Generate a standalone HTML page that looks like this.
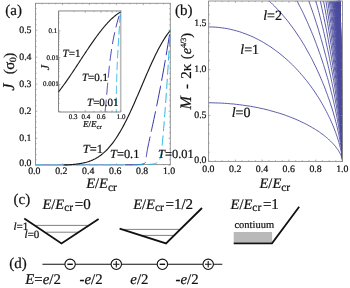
<!DOCTYPE html>
<html><head><meta charset="utf-8"><style>
html,body{margin:0;padding:0;background:#fff;}
body{width:350px;height:288px;overflow:hidden;font-family:"Liberation Serif",serif;}
svg{display:block;will-change:transform;}
</style></head><body>
<svg width="350" height="288" viewBox="0 0 350 288" style="font-family:'Liberation Serif',serif" text-rendering="geometricPrecision">

<g fill="none" stroke="#8a8a8a" stroke-width="0.9">
<rect x="35.5" y="3.3" width="134.80" height="161.30"/>
<path d="M35.50,165.2 v-1.8 M35.50,3.3 v1.8 M42.24,165.2 v-1.1 M42.24,3.3 v1.1 M48.98,165.2 v-1.1 M48.98,3.3 v1.1 M55.72,165.2 v-1.1 M55.72,3.3 v1.1 M62.46,165.2 v-1.8 M62.46,3.3 v1.8 M69.20,165.2 v-1.1 M69.20,3.3 v1.1 M75.94,165.2 v-1.1 M75.94,3.3 v1.1 M82.68,165.2 v-1.1 M82.68,3.3 v1.1 M89.42,165.2 v-1.8 M89.42,3.3 v1.8 M96.16,165.2 v-1.1 M96.16,3.3 v1.1 M102.90,165.2 v-1.1 M102.90,3.3 v1.1 M109.64,165.2 v-1.1 M109.64,3.3 v1.1 M116.38,165.2 v-1.8 M116.38,3.3 v1.8 M123.12,165.2 v-1.1 M123.12,3.3 v1.1 M129.86,165.2 v-1.1 M129.86,3.3 v1.1 M136.60,165.2 v-1.1 M136.60,3.3 v1.1 M143.34,165.2 v-1.8 M143.34,3.3 v1.8 M150.08,165.2 v-1.1 M150.08,3.3 v1.1 M156.82,165.2 v-1.1 M156.82,3.3 v1.1 M163.56,165.2 v-1.1 M163.56,3.3 v1.1 M170.30,165.2 v-1.8 M170.30,3.3 v1.8 M35.5,165.20 h1.8 M170.3,165.20 h-1.8 M35.5,159.80 h1.1 M170.3,159.80 h-1.1 M35.5,154.40 h1.1 M170.3,154.40 h-1.1 M35.5,149.00 h1.1 M170.3,149.00 h-1.1 M35.5,143.60 h1.1 M170.3,143.60 h-1.1 M35.5,138.20 h1.8 M170.3,138.20 h-1.8 M35.5,132.80 h1.1 M170.3,132.80 h-1.1 M35.5,127.40 h1.1 M170.3,127.40 h-1.1 M35.5,122.00 h1.1 M170.3,122.00 h-1.1 M35.5,116.60 h1.1 M170.3,116.60 h-1.1 M35.5,111.20 h1.8 M170.3,111.20 h-1.8 M35.5,105.80 h1.1 M170.3,105.80 h-1.1 M35.5,100.40 h1.1 M170.3,100.40 h-1.1 M35.5,95.00 h1.1 M170.3,95.00 h-1.1 M35.5,89.60 h1.1 M170.3,89.60 h-1.1 M35.5,84.20 h1.8 M170.3,84.20 h-1.8 M35.5,78.80 h1.1 M170.3,78.80 h-1.1 M35.5,73.40 h1.1 M170.3,73.40 h-1.1 M35.5,68.00 h1.1 M170.3,68.00 h-1.1 M35.5,62.60 h1.1 M170.3,62.60 h-1.1 M35.5,57.20 h1.8 M170.3,57.20 h-1.8 M35.5,51.80 h1.1 M170.3,51.80 h-1.1 M35.5,46.40 h1.1 M170.3,46.40 h-1.1 M35.5,41.00 h1.1 M170.3,41.00 h-1.1 M35.5,35.60 h1.1 M170.3,35.60 h-1.1 M35.5,30.20 h1.8 M170.3,30.20 h-1.8 M35.5,24.80 h1.1 M170.3,24.80 h-1.1 M35.5,19.40 h1.1 M170.3,19.40 h-1.1 M35.5,14.00 h1.1 M170.3,14.00 h-1.1 M35.5,8.60 h1.1 M170.3,8.60 h-1.1" stroke-width="0.7"/>
</g>
<path d="M35.5,164.95 H63.48" stroke="#9a9a9a" stroke-width="1"/>
<path d="M35.5,164.95 H122.68" stroke="#8a8ad2" stroke-width="1"/>
<path d="M35.5,164.95 H131.91" stroke="#5ac8f0" stroke-width="1" stroke-dasharray="9.5 4"/>
<path d="M63.48,164.95 L64.33,164.94 L65.17,164.91 L66.02,164.88 L66.87,164.85 L67.72,164.81 L68.56,164.76 L69.41,164.72 L70.26,164.66 L71.11,164.61 L71.96,164.55 L72.80,164.48 L73.65,164.40 L74.50,164.32 L75.35,164.24 L76.19,164.14 L77.04,164.04 L77.89,163.93 L78.74,163.81 L79.59,163.68 L80.43,163.54 L81.28,163.39 L82.13,163.23 L82.98,163.05 L83.82,162.87 L84.67,162.67 L85.52,162.45 L86.37,162.22 L87.22,161.98 L88.06,161.71 L88.91,161.43 L89.76,161.13 L90.61,160.82 L91.45,160.48 L92.30,160.12 L93.15,159.74 L94.00,159.33 L94.85,158.91 L95.69,158.46 L96.54,157.98 L97.39,157.48 L98.24,156.95 L99.08,156.39 L99.93,155.80 L100.78,155.19 L101.63,154.54 L102.48,153.86 L103.32,153.15 L104.17,152.41 L105.02,151.63 L105.87,150.82 L106.72,149.98 L107.56,149.10 L108.41,148.18 L109.26,147.23 L110.11,146.24 L110.95,145.22 L111.80,144.16 L112.65,143.06 L113.50,141.92 L114.35,140.74 L115.19,139.53 L116.04,138.28 L116.89,136.99 L117.74,135.66 L118.58,134.30 L119.43,132.90 L120.28,131.46 L121.13,129.99 L121.98,128.48 L122.82,126.94 L123.67,125.36 L124.52,123.75 L125.37,122.11 L126.21,120.43 L127.06,118.73 L127.91,116.99 L128.76,115.23 L129.61,113.44 L130.45,111.63 L131.30,109.79 L132.15,107.93 L133.00,106.05 L133.84,104.15 L134.69,102.24 L135.54,100.30 L136.39,98.35 L137.24,96.39 L138.08,94.42 L138.93,92.45 L139.78,90.46 L140.63,88.47 L141.47,86.48 L142.32,84.48 L143.17,82.49 L144.02,80.50 L144.87,78.52 L145.71,76.54 L146.56,74.58 L147.41,72.62 L148.26,70.68 L149.11,68.75 L149.95,66.84 L150.80,64.96 L151.65,63.09 L152.50,61.24 L153.34,59.42 L154.19,57.63 L155.04,55.86 L155.89,54.12 L156.74,52.42 L157.58,50.75 L158.43,49.11 L159.28,47.51 L160.13,45.94 L160.97,44.42 L161.82,42.93 L162.67,41.49 L163.52,40.09 L164.37,38.73 L165.21,37.42 L166.06,36.15 L166.91,34.92 L167.76,33.74 L168.60,32.61 L169.45,31.53 L170.30,30.49" fill="none" stroke="#1a1a1a" stroke-width="1.15"/>
<path d="M170.20,30.50 L169.07,37.59 L167.97,44.31 L166.91,50.67 L165.89,56.70 L164.90,62.41 L163.94,67.82 L163.02,72.95 L162.13,77.81 L161.28,82.41 L160.46,86.77 L159.66,90.90 L158.90,94.81 L158.17,98.51 L157.46,102.02 L156.79,105.35 L156.14,108.50 L155.52,111.49 L154.93,114.31 L154.36,116.99 L153.82,119.53 L153.31,121.93 L152.82,124.21 L152.35,126.37 L151.90,128.41 L151.48,130.35 L151.08,132.18 L150.70,133.92 L150.34,135.57 L150.00,137.13 L149.68,138.61 L149.38,140.01 L149.09,141.33 L148.83,142.59 L148.58,143.78 L148.35,144.91 L148.13,145.98 L147.93,146.99 L147.74,147.95 L147.56,148.85 L147.40,149.72 L147.25,150.53 L147.11,151.30 L146.99,152.03 L146.87,152.73 L146.77,153.38 L146.67,154.01 L146.58,154.60 L146.50,155.15 L146.43,155.68 L146.36,156.18 L146.30,156.66 L146.25,157.11 L146.20,157.53 L146.16,157.94 L146.12,158.32 L146.08,158.68 L146.04,159.03 L146.01,159.35 L145.98,159.66 L145.94,159.95 L145.91,160.23 L145.88,160.49 L145.85,160.74 L145.81,160.97 L145.77,161.19 L145.73,161.40 L145.69,161.60 L145.64,161.79 L145.58,161.97 L145.52,162.14 L145.45,162.30 L145.38,162.46 L145.30,162.60 L145.21,162.74 L145.11,162.87 L145.01,162.99 L144.89,163.11 L144.76,163.22 L144.62,163.32 L144.47,163.42 L144.31,163.51 L144.13,163.60 L143.94,163.69 L143.74,163.77 L143.52,163.84 L143.28,163.91 L143.03,163.98 L142.76,164.05 L142.47,164.11 L142.17,164.16 L141.85,164.22 L141.51,164.27 L141.14,164.32 L140.76,164.37 L140.36,164.41 L139.93,164.45 L139.48,164.49 L139.01,164.53 L138.52,164.56 L138.00,164.60 L137.45,164.63 L136.88,164.66 L136.29,164.69 L135.66,164.71 L135.01,164.74 L134.33,164.76 L133.63,164.79 L132.89,164.81 L132.12,164.83 L131.33,164.85 L130.50,164.87 L129.64,164.88 L128.75,164.90 L127.82,164.92 L126.86,164.93 L125.87,164.95 L124.84,164.95 L123.78,164.95 L122.68,164.95" fill="none" stroke="#3434a8" stroke-width="1.0" stroke-dasharray="21 5" stroke-dashoffset="22"/>
<path d="M170.26,30.50 L169.85,37.59 L169.45,44.31 L169.07,50.67 L168.71,56.70 L168.35,62.41 L168.01,67.82 L167.68,72.95 L167.36,77.81 L167.06,82.41 L166.76,86.77 L166.48,90.90 L166.21,94.81 L165.95,98.51 L165.70,102.02 L165.45,105.35 L165.22,108.50 L165.00,111.49 L164.78,114.31 L164.58,116.99 L164.38,119.53 L164.19,121.93 L164.00,124.21 L163.83,126.37 L163.66,128.41 L163.50,130.35 L163.34,132.18 L163.19,133.92 L163.05,135.57 L162.91,137.13 L162.77,138.61 L162.64,140.01 L162.52,141.33 L162.40,142.59 L162.28,143.78 L162.17,144.91 L162.06,145.98 L161.95,146.99 L161.84,147.95 L161.74,148.85 L161.64,149.72 L161.53,150.53 L161.44,151.30 L161.34,152.03 L161.24,152.73 L161.14,153.38 L161.04,154.01 L160.94,154.60 L160.84,155.15 L160.74,155.68 L160.64,156.18 L160.54,156.66 L160.43,157.11 L160.32,157.53 L160.21,157.94 L160.10,158.32 L159.98,158.68 L159.86,159.03 L159.74,159.35 L159.61,159.66 L159.47,159.95 L159.33,160.23 L159.19,160.49 L159.04,160.74 L158.89,160.97 L158.72,161.19 L158.56,161.40 L158.38,161.60 L158.20,161.79 L158.01,161.97 L157.81,162.14 L157.61,162.30 L157.39,162.46 L157.17,162.60 L156.94,162.74 L156.70,162.87 L156.44,162.99 L156.18,163.11 L155.91,163.22 L155.63,163.32 L155.34,163.42 L155.03,163.51 L154.71,163.60 L154.39,163.69 L154.05,163.77 L153.69,163.84 L153.33,163.91 L152.95,163.98 L152.56,164.05 L152.15,164.11 L151.73,164.16 L151.29,164.22 L150.84,164.27 L150.38,164.32 L149.90,164.37 L149.40,164.41 L148.89,164.45 L148.36,164.49 L147.81,164.53 L147.25,164.56 L146.67,164.60 L146.07,164.63 L145.45,164.66 L144.82,164.69 L144.17,164.71 L143.49,164.74 L142.80,164.76 L142.09,164.79 L141.36,164.81 L140.61,164.83 L139.84,164.85 L139.04,164.87 L138.23,164.88 L137.39,164.90 L136.53,164.92 L135.66,164.93 L134.75,164.95 L133.83,164.95 L132.88,164.95 L131.91,164.95" fill="none" stroke="#22b6e8" stroke-width="1.0" stroke-dasharray="10 4.2" stroke-dashoffset="8.4"/>
<rect x="58.5" y="10.9" width="62.20" height="101.10" fill="#fff" stroke="none"/>
<path d="M58.5,10.9 V112.0 H120.7" fill="none" stroke="#777" stroke-width="0.9"/>
<path d="M58.5,10.9 H120.7 V112.0" fill="none" stroke="#bbb" stroke-width="1.6"/>
<path d="M58.49,112.0 v-2.0 M58.49,10.9 v2.0 M74.16,112.0 v-1.2 M74.16,10.9 v1.2 M85.28,112.0 v-2.0 M85.28,10.9 v2.0 M93.91,112.0 v-1.2 M93.91,10.9 v1.2 M100.96,112.0 v-2.0 M100.96,10.9 v2.0 M106.91,112.0 v-1.2 M106.91,10.9 v1.2 M112.08,112.0 v-2.0 M112.08,10.9 v2.0 M116.63,112.0 v-1.2 M116.63,10.9 v1.2 M120.70,112.0 v-2.0 M120.70,10.9 v2.0 M58.5,111.35 h2.0 M58.5,103.27 h1.2 M58.5,98.54 h1.2 M58.5,95.18 h1.2 M58.5,92.58 h1.2 M58.5,90.46 h1.2 M58.5,88.66 h1.2 M58.5,87.10 h1.2 M58.5,85.73 h1.2 M58.5,84.50 h2.0 M58.5,76.42 h1.2 M58.5,71.69 h1.2 M58.5,68.33 h1.2 M58.5,65.73 h1.2 M58.5,63.61 h1.2 M58.5,61.81 h1.2 M58.5,60.25 h1.2 M58.5,58.88 h1.2 M58.5,57.65 h2.0 M58.5,49.57 h1.2 M58.5,44.84 h1.2 M58.5,41.48 h1.2 M58.5,38.88 h1.2 M58.5,36.76 h1.2 M58.5,34.96 h1.2 M58.5,33.40 h1.2 M58.5,32.03 h1.2 M58.5,30.80 h2.0 M58.5,22.72 h1.2 M58.5,17.99 h1.2 M58.5,14.63 h1.2 M58.5,12.03 h1.2" fill="none" stroke="#888" stroke-width="0.6"/>
<path d="M58.49,91.91 L59.01,91.25 L59.54,90.58 L60.06,89.90 L60.58,89.22 L61.10,88.53 L61.62,87.84 L62.15,87.14 L62.67,86.43 L63.19,85.72 L63.71,85.01 L64.23,84.29 L64.75,83.56 L65.28,82.83 L65.80,82.09 L66.32,81.35 L66.84,80.61 L67.36,79.86 L67.89,79.11 L68.41,78.35 L68.93,77.59 L69.45,76.83 L69.97,76.07 L70.50,75.30 L71.02,74.52 L71.54,73.75 L72.06,72.97 L72.58,72.19 L73.11,71.41 L73.63,70.62 L74.15,69.84 L74.67,69.05 L75.19,68.26 L75.71,67.47 L76.24,66.67 L76.76,65.88 L77.28,65.08 L77.80,64.29 L78.32,63.49 L78.85,62.69 L79.37,61.90 L79.89,61.10 L80.41,60.30 L80.93,59.51 L81.46,58.71 L81.98,57.91 L82.50,57.12 L83.02,56.32 L83.54,55.53 L84.07,54.73 L84.59,53.94 L85.11,53.15 L85.63,52.37 L86.15,51.58 L86.68,50.79 L87.20,50.01 L87.72,49.23 L88.24,48.45 L88.76,47.68 L89.28,46.91 L89.81,46.14 L90.33,45.37 L90.85,44.61 L91.37,43.85 L91.89,43.10 L92.42,42.34 L92.94,41.60 L93.46,40.85 L93.98,40.11 L94.50,39.38 L95.03,38.65 L95.55,37.92 L96.07,37.20 L96.59,36.49 L97.11,35.78 L97.64,35.07 L98.16,34.38 L98.68,33.68 L99.20,33.00 L99.72,32.31 L100.25,31.64 L100.77,30.97 L101.29,30.31 L101.81,29.66 L102.33,29.01 L102.85,28.37 L103.38,27.73 L103.90,27.11 L104.42,26.49 L104.94,25.88 L105.46,25.27 L105.99,24.68 L106.51,24.09 L107.03,23.52 L107.55,22.95 L108.07,22.39 L108.60,21.83 L109.12,21.29 L109.64,20.76 L110.16,20.23 L110.68,19.72 L111.21,19.22 L111.73,18.72 L112.25,18.24 L112.77,17.76 L113.29,17.30 L113.82,16.85 L114.34,16.40 L114.86,15.97 L115.38,15.55 L115.90,15.14 L116.42,14.74 L116.95,14.36 L117.47,13.98 L117.99,13.62 L118.51,13.27 L119.03,12.93 L119.56,12.60 L120.08,12.29 L120.60,11.99" fill="none" stroke="#1a1a1a" stroke-width="1.1"/>
<path d="M120.04,13.00 L119.71,14.01 L119.39,15.01 L119.07,16.02 L118.76,17.02 L118.46,18.03 L118.16,19.03 L117.87,20.04 L117.58,21.04 L117.30,22.05 L117.03,23.05 L116.76,24.06 L116.50,25.06 L116.24,26.07 L115.98,27.07 L115.74,28.08 L115.49,29.08 L115.26,30.09 L115.02,31.09 L114.80,32.10 L114.57,33.10 L114.36,34.11 L114.14,35.11 L113.93,36.12 L113.73,37.12 L113.53,38.13 L113.33,39.13 L113.14,40.14 L112.96,41.14 L112.77,42.15 L112.59,43.15 L112.42,44.16 L112.25,45.16 L112.08,46.17 L111.91,47.17 L111.75,48.18 L111.60,49.18 L111.44,50.19 L111.29,51.19 L111.14,52.20 L111.00,53.20 L110.86,54.21 L110.72,55.21 L110.58,56.22 L110.45,57.22 L110.32,58.23 L110.19,59.23 L110.07,60.24 L109.95,61.24 L109.83,62.25 L109.71,63.25 L109.59,64.26 L109.48,65.26 L109.37,66.27 L109.26,67.27 L109.15,68.28 L109.05,69.28 L108.94,70.29 L108.84,71.29 L108.74,72.30 L108.64,73.30 L108.54,74.31 L108.44,75.31 L108.35,76.32 L108.25,77.32 L108.16,78.33 L108.07,79.33 L107.97,80.34 L107.88,81.34 L107.79,82.35 L107.70,83.35 L107.61,84.36 L107.52,85.36 L107.43,86.37 L107.35,87.37 L107.26,88.38 L107.17,89.38 L107.08,90.39 L106.99,91.39 L106.90,92.40 L106.81,93.40 L106.73,94.41 L106.64,95.41 L106.55,96.42 L106.45,97.42 L106.36,98.43 L106.27,99.43 L106.18,100.44 L106.08,101.44 L105.99,102.45 L105.89,103.45 L105.80,104.46 L105.70,105.46 L105.60,106.47 L105.50,107.47 L105.39,108.48 L105.29,109.48 L105.18,110.49 L105.07,111.49 L104.96,112.50" fill="none" stroke="#3434a8" stroke-width="0.95" stroke-dasharray="12 5" stroke-dashoffset="14"/>
<path d="M120.45,13.00 L120.37,14.01 L120.29,15.01 L120.22,16.02 L120.14,17.02 L120.06,18.03 L119.99,19.03 L119.91,20.04 L119.84,21.04 L119.76,22.05 L119.69,23.05 L119.62,24.06 L119.54,25.06 L119.47,26.07 L119.40,27.07 L119.33,28.08 L119.26,29.08 L119.19,30.09 L119.12,31.09 L119.05,32.10 L118.99,33.10 L118.92,34.11 L118.85,35.11 L118.79,36.12 L118.72,37.12 L118.66,38.13 L118.60,39.13 L118.53,40.14 L118.47,41.14 L118.41,42.15 L118.35,43.15 L118.29,44.16 L118.23,45.16 L118.17,46.17 L118.12,47.17 L118.06,48.18 L118.00,49.18 L117.95,50.19 L117.89,51.19 L117.84,52.20 L117.79,53.20 L117.73,54.21 L117.68,55.21 L117.63,56.22 L117.58,57.22 L117.53,58.23 L117.48,59.23 L117.44,60.24 L117.39,61.24 L117.34,62.25 L117.30,63.25 L117.25,64.26 L117.21,65.26 L117.17,66.27 L117.13,67.27 L117.09,68.28 L117.05,69.28 L117.01,70.29 L116.97,71.29 L116.93,72.30 L116.89,73.30 L116.86,74.31 L116.82,75.31 L116.79,76.32 L116.76,77.32 L116.73,78.33 L116.70,79.33 L116.67,80.34 L116.64,81.34 L116.61,82.35 L116.58,83.35 L116.56,84.36 L116.53,85.36 L116.51,86.37 L116.48,87.37 L116.46,88.38 L116.44,89.38 L116.42,90.39 L116.40,91.39 L116.38,92.40 L116.37,93.40 L116.35,94.41 L116.34,95.41 L116.32,96.42 L116.31,97.42 L116.30,98.43 L116.29,99.43 L116.28,100.44 L116.27,101.44 L116.26,102.45 L116.26,103.45 L116.25,104.46 L116.25,105.46 L116.24,106.47 L116.24,107.47 L116.24,108.48 L116.24,109.48 L116.24,110.49 L116.25,111.49 L116.25,112.50" fill="none" stroke="#22b6e8" stroke-width="0.95" stroke-dasharray="8.4 3.5" stroke-dashoffset="10.6"/>
<g fill="#111" stroke="#111" stroke-width="0.22">
<text x="5.3" y="14.8" font-size="15">(a)</text>
<text x="31.5" y="166.30" font-size="9.8" text-anchor="end">0.0</text>
<text x="31.5" y="140.70" font-size="9.8" text-anchor="end">0.1</text>
<text x="31.5" y="113.70" font-size="9.8" text-anchor="end">0.2</text>
<text x="31.5" y="86.70" font-size="9.8" text-anchor="end">0.3</text>
<text x="31.5" y="59.70" font-size="9.8" text-anchor="end">0.4</text>
<text x="31.5" y="32.70" font-size="9.8" text-anchor="end">0.5</text>
<text x="34.30" y="173.8" font-size="9.8" text-anchor="middle">0.0</text>
<text x="61.26" y="173.8" font-size="9.8" text-anchor="middle">0.2</text>
<text x="88.22" y="173.8" font-size="9.8" text-anchor="middle">0.4</text>
<text x="115.18" y="173.8" font-size="9.8" text-anchor="middle">0.6</text>
<text x="142.14" y="173.8" font-size="9.8" text-anchor="middle">0.8</text>
<text x="169.10" y="173.8" font-size="9.8" text-anchor="middle">1.0</text>
<text x="86.2" y="187.9" font-size="14.5"><tspan font-style="italic">E</tspan>/<tspan font-style="italic">E</tspan><tspan font-size="11.5" dy="2.6">cr</tspan></text>
<text transform="translate(13.5,90.7) rotate(-90)" font-size="16.5" font-style="italic">J</text><text transform="translate(13.5,74.3) rotate(-90)" font-size="15" letter-spacing="-0.4">(σ<tspan font-size="9.5" dy="2">0</tspan><tspan dy="-2">)</tspan></text>
<text x="57.3" y="33.3" font-size="7" text-anchor="end">0.1</text>
<text x="58.8" y="59.6" font-size="7" text-anchor="end">0.01</text>
<text x="58.8" y="85.9" font-size="7" text-anchor="end">0.001</text>
<text x="73.1" y="119" font-size="7" text-anchor="middle">0.3</text>
<text x="85.8" y="119" font-size="7" text-anchor="middle">0.4</text>
<text x="101.1" y="119" font-size="7" text-anchor="middle">0.6</text>
<text x="121" y="119" font-size="7" text-anchor="middle">1.0</text>
<text x="83" y="127" font-size="9"><tspan font-style="italic">E</tspan>/<tspan font-style="italic">E</tspan><tspan font-size="6.5" dy="2">cr</tspan></text>
<text transform="translate(49.4,70.2) rotate(-90)" font-size="12" font-style="italic">J</text>
<text x="62.6" y="57.1" font-size="11"><tspan font-style="italic">T</tspan>=1</text>
<text x="81.9" y="80.8" font-size="11"><tspan font-style="italic">T</tspan>=0.1</text>
<text x="87.0" y="105.6" font-size="11"><tspan font-style="italic">T</tspan>=0.01</text>
<text x="82.8" y="153.4" font-size="12.4"><tspan font-style="italic">T</tspan>=1</text>
<text x="110.0" y="158.0" font-size="12.4"><tspan font-style="italic">T</tspan>=0.1</text>
<text x="158.1" y="157.8" font-size="12.4"><tspan font-style="italic">T</tspan>=0.01</text>
</g>
<g fill="none" stroke="#4b4b9e" stroke-width="0.9">
<path d="M208.6,102.8 L211.9,102.8 L215.1,102.9 L218.3,103.0 L221.5,103.1 L224.6,103.3 L227.7,103.5 L230.7,103.8 L233.7,104.0 L236.6,104.4 L239.5,104.7 L242.3,105.1 L245.1,105.5 L247.9,105.9 L250.6,106.3 L253.3,106.8 L255.9,107.3 L258.5,107.8 L261.1,108.4 L263.6,108.9 L266.0,109.5 L268.4,110.1 L270.8,110.8 L273.1,111.4 L275.4,112.1 L277.7,112.7 L279.9,113.4 L282.1,114.1 L284.2,114.8 L286.3,115.6 L288.3,116.3 L290.3,117.1 L292.3,117.9 L294.2,118.6 L296.1,119.4 L297.9,120.2 L299.7,121.0 L301.4,121.9 L303.2,122.7 L304.8,123.5 L306.5,124.4 L308.1,125.2 L309.6,126.1 L311.2,126.9 L312.6,127.8 L314.1,128.6 L315.5,129.5 L316.8,130.4 L318.2,131.2 L319.5,132.1 L320.7,133.0 L321.9,133.9 L323.1,134.7 L324.2,135.6 L325.3,136.5 L326.4,137.4 L327.4,138.2 L328.4,139.1 L329.3,140.0 L330.3,140.8 L331.1,141.7 L332.0,142.6 L332.8,143.4 L333.6,144.3 L334.3,145.1 L335.0,145.9 L335.7,146.7 L336.3,147.6 L336.9,148.4 L337.5,149.2 L338.0,149.9 L338.5,150.7 L339.0,151.5 L339.4,152.2 L339.8,153.0 L340.2,153.7 L340.6,154.4 L340.9,155.1 L341.2,155.8 L341.4,156.5 L341.6,157.1 L341.8,157.7 L342.0,158.3 L342.1,158.9 L342.3,159.4 L342.4,159.9 L342.4,160.4 L342.5,160.8 L342.5,161.2 L342.5,161.4"/>
<path d="M208.6,26.9 L211.9,27.0 L215.1,27.1 L218.3,27.4 L221.5,27.8 L224.6,28.2 L227.7,28.7 L230.7,29.4 L233.7,30.1 L236.6,30.9 L239.5,31.7 L242.3,32.7 L245.1,33.7 L247.9,34.8 L250.6,35.9 L253.3,37.1 L255.9,38.4 L258.5,39.7 L261.1,41.1 L263.6,42.5 L266.0,44.0 L268.4,45.5 L270.8,47.0 L273.1,48.7 L275.4,50.3 L277.7,52.0 L279.9,53.7 L282.1,55.5 L284.2,57.3 L286.3,59.1 L288.3,60.9 L290.3,62.8 L292.3,64.7 L294.2,66.6 L296.1,68.6 L297.9,70.6 L299.7,72.5 L301.4,74.5 L303.2,76.5 L304.8,78.6 L306.5,80.6 L308.1,82.7 L309.6,84.7 L311.2,86.8 L312.6,88.8 L314.1,90.9 L315.5,93.0 L316.8,95.1 L318.2,97.1 L319.5,99.2 L320.7,101.3 L321.9,103.3 L323.1,105.4 L324.2,107.4 L325.3,109.4 L326.4,111.5 L327.4,113.5 L328.4,115.5 L329.3,117.4 L330.3,119.4 L331.1,121.4 L332.0,123.3 L332.8,125.2 L333.6,127.1 L334.3,128.9 L335.0,130.8 L335.7,132.6 L336.3,134.3 L336.9,136.1 L337.5,137.8 L338.0,139.5 L338.5,141.1 L339.0,142.7 L339.4,144.3 L339.8,145.8 L340.2,147.3 L340.6,148.8 L340.9,150.1 L341.2,151.5 L341.4,152.8 L341.6,154.0 L341.8,155.2 L342.0,156.3 L342.1,157.3 L342.3,158.3 L342.4,159.1 L342.4,159.9 L342.5,160.6 L342.5,161.1 L342.5,161.4"/>
<path d="M269.1,0.9 L270.9,2.6 L272.6,4.3 L274.4,6.0 L276.1,7.8 L277.8,9.6 L279.5,11.4 L281.2,13.2 L282.8,15.1 L284.4,17.0 L286.0,18.9 L287.6,20.9 L289.1,22.9 L290.6,24.9 L292.1,26.9 L293.6,28.9 L295.0,30.9 L296.4,33.0 L297.8,35.1 L299.2,37.2 L300.6,39.3 L301.9,41.4 L303.2,43.5 L304.5,45.7 L305.7,47.8 L306.9,50.0 L308.2,52.2 L309.3,54.3 L310.5,56.5 L311.7,58.7 L312.8,60.9 L313.9,63.1 L314.9,65.3 L316.0,67.4 L317.0,69.6 L318.0,71.8 L319.0,74.0 L320.0,76.2 L320.9,78.4 L321.8,80.5 L322.7,82.7 L323.6,84.9 L324.5,87.0 L325.3,89.2 L326.1,91.3 L326.9,93.5 L327.7,95.6 L328.4,97.7 L329.2,99.8 L329.9,101.9 L330.5,103.9 L331.2,106.0 L331.9,108.0 L332.5,110.0 L333.1,112.0 L333.7,114.0 L334.2,116.0 L334.8,117.9 L335.3,119.9 L335.8,121.8 L336.3,123.6 L336.7,125.5 L337.2,127.3 L337.6,129.1 L338.0,130.9 L338.4,132.6 L338.8,134.3 L339.1,136.0 L339.4,137.7 L339.7,139.3 L340.0,140.9 L340.3,142.4 L340.6,144.0 L340.8,145.4 L341.0,146.9 L341.2,148.3 L341.4,149.6 L341.6,150.9 L341.8,152.2 L341.9,153.4 L342.0,154.5 L342.1,155.6 L342.2,156.6 L342.3,157.6 L342.4,158.5 L342.4,159.3 L342.5,160.0 L342.5,160.6 L342.5,161.1 L342.5,161.4"/>
<path d="M297.0,0.9 L298.1,3.0 L299.2,5.2 L300.3,7.3 L301.4,9.4 L302.5,11.6 L303.5,13.7 L304.5,15.9 L305.5,18.1 L306.5,20.3 L307.5,22.5 L308.5,24.7 L309.4,26.9 L310.4,29.1 L311.3,31.3 L312.2,33.5 L313.1,35.7 L314.0,37.9 L314.8,40.1 L315.7,42.3 L316.5,44.6 L317.3,46.8 L318.2,49.0 L318.9,51.2 L319.7,53.4 L320.5,55.6 L321.2,57.8 L322.0,60.0 L322.7,62.2 L323.4,64.4 L324.1,66.6 L324.8,68.8 L325.4,71.0 L326.1,73.1 L326.7,75.3 L327.4,77.4 L328.0,79.6 L328.6,81.7 L329.1,83.8 L329.7,85.9 L330.3,88.0 L330.8,90.1 L331.3,92.2 L331.9,94.2 L332.4,96.3 L332.8,98.3 L333.3,100.3 L333.8,102.3 L334.2,104.3 L334.7,106.3 L335.1,108.2 L335.5,110.2 L335.9,112.1 L336.3,114.0 L336.7,115.9 L337.0,117.7 L337.4,119.5 L337.7,121.4 L338.0,123.1 L338.3,124.9 L338.6,126.7 L338.9,128.4 L339.2,130.1 L339.5,131.7 L339.7,133.4 L340.0,135.0 L340.2,136.6 L340.4,138.1 L340.6,139.7 L340.8,141.1 L341.0,142.6 L341.1,144.0 L341.3,145.4 L341.5,146.8 L341.6,148.1 L341.7,149.4 L341.8,150.6 L341.9,151.8 L342.0,152.9 L342.1,154.0 L342.2,155.1 L342.3,156.1 L342.3,157.0 L342.4,157.9 L342.4,158.7 L342.5,159.5 L342.5,160.1 L342.5,160.7 L342.5,161.1 L342.5,161.4"/>
<path d="M308.8,0.9 L309.6,3.2 L310.4,5.5 L311.2,7.7 L312.0,10.0 L312.8,12.3 L313.6,14.6 L314.3,16.8 L315.1,19.1 L315.8,21.4 L316.5,23.7 L317.3,26.0 L318.0,28.3 L318.7,30.5 L319.3,32.8 L320.0,35.1 L320.7,37.4 L321.3,39.6 L322.0,41.9 L322.6,44.2 L323.2,46.4 L323.8,48.7 L324.4,50.9 L325.0,53.2 L325.6,55.4 L326.2,57.6 L326.7,59.8 L327.3,62.0 L327.8,64.3 L328.3,66.4 L328.8,68.6 L329.3,70.8 L329.8,73.0 L330.3,75.1 L330.8,77.3 L331.3,79.4 L331.7,81.5 L332.2,83.7 L332.6,85.8 L333.0,87.8 L333.4,89.9 L333.8,92.0 L334.2,94.0 L334.6,96.0 L335.0,98.1 L335.3,100.0 L335.7,102.0 L336.0,104.0 L336.4,105.9 L336.7,107.9 L337.0,109.8 L337.3,111.7 L337.6,113.5 L337.9,115.4 L338.2,117.2 L338.4,119.0 L338.7,120.8 L338.9,122.6 L339.2,124.3 L339.4,126.1 L339.6,127.7 L339.9,129.4 L340.1,131.1 L340.2,132.7 L340.4,134.3 L340.6,135.8 L340.8,137.4 L340.9,138.9 L341.1,140.4 L341.2,141.8 L341.4,143.2 L341.5,144.6 L341.6,145.9 L341.7,147.3 L341.8,148.5 L341.9,149.8 L342.0,151.0 L342.1,152.1 L342.2,153.2 L342.2,154.3 L342.3,155.3 L342.3,156.3 L342.4,157.2 L342.4,158.0 L342.4,158.8 L342.5,159.5 L342.5,160.2 L342.5,160.7 L342.5,161.2 L342.5,161.4"/>
<path d="M315.8,0.9 L316.4,3.3 L317.1,5.6 L317.7,8.0 L318.3,10.3 L319.0,12.7 L319.6,15.0 L320.2,17.4 L320.8,19.7 L321.4,22.0 L321.9,24.4 L322.5,26.7 L323.1,29.0 L323.6,31.4 L324.2,33.7 L324.7,36.0 L325.2,38.3 L325.7,40.6 L326.2,42.9 L326.7,45.2 L327.2,47.4 L327.7,49.7 L328.2,52.0 L328.7,54.2 L329.1,56.5 L329.6,58.7 L330.0,61.0 L330.4,63.2 L330.9,65.4 L331.3,67.6 L331.7,69.8 L332.1,71.9 L332.5,74.1 L332.9,76.3 L333.2,78.4 L333.6,80.5 L334.0,82.6 L334.3,84.7 L334.7,86.8 L335.0,88.9 L335.3,91.0 L335.6,93.0 L335.9,95.0 L336.2,97.0 L336.5,99.0 L336.8,101.0 L337.1,103.0 L337.4,104.9 L337.6,106.8 L337.9,108.7 L338.1,110.6 L338.4,112.5 L338.6,114.4 L338.9,116.2 L339.1,118.0 L339.3,119.8 L339.5,121.5 L339.7,123.3 L339.9,125.0 L340.1,126.7 L340.2,128.4 L340.4,130.0 L340.6,131.6 L340.7,133.2 L340.9,134.8 L341.0,136.3 L341.1,137.8 L341.3,139.3 L341.4,140.8 L341.5,142.2 L341.6,143.6 L341.7,144.9 L341.8,146.2 L341.9,147.5 L342.0,148.8 L342.0,150.0 L342.1,151.2 L342.2,152.3 L342.2,153.4 L342.3,154.4 L342.3,155.4 L342.4,156.4 L342.4,157.3 L342.4,158.1 L342.5,158.9 L342.5,159.6 L342.5,160.2 L342.5,160.7 L342.5,161.2 L342.5,161.4"/>
<path d="M320.3,0.9 L321.9,8.3 L323.5,15.6 L325.0,22.9 L326.5,30.2 L327.8,37.3 L329.1,44.4 L330.4,51.5 L331.6,58.4 L332.7,65.2 L333.7,72.0 L334.7,78.6 L335.6,85.1 L336.5,91.4 L337.3,97.6 L338.0,103.6 L338.7,109.5 L339.3,115.2 L339.9,120.6 L340.4,125.9 L340.8,131.0 L341.2,135.8 L341.5,140.3 L341.8,144.6 L342.0,148.5 L342.2,152.1 L342.3,155.3 L342.4,158.0 L342.5,160.2 L342.5,161.4"/>
<path d="M323.5,0.9 L324.9,8.4 L326.3,15.8 L327.6,23.2 L328.8,30.5 L330.0,37.7 L331.1,44.9 L332.2,51.9 L333.2,58.9 L334.1,65.7 L335.0,72.4 L335.8,79.1 L336.6,85.5 L337.4,91.9 L338.0,98.0 L338.7,104.0 L339.2,109.9 L339.8,115.5 L340.2,121.0 L340.7,126.2 L341.1,131.2 L341.4,136.0 L341.7,140.5 L341.9,144.7 L342.1,148.6 L342.3,152.2 L342.4,155.4 L342.4,158.1 L342.5,160.2 L342.5,161.4"/>
<path d="M325.9,0.9 L327.1,8.5 L328.3,16.0 L329.4,23.4 L330.5,30.7 L331.5,38.0 L332.5,45.2 L333.4,52.2 L334.3,59.2 L335.2,66.1 L335.9,72.8 L336.7,79.4 L337.4,85.9 L338.0,92.2 L338.6,98.3 L339.2,104.3 L339.7,110.1 L340.1,115.8 L340.5,121.2 L340.9,126.4 L341.2,131.4 L341.5,136.1 L341.8,140.6 L342.0,144.8 L342.2,148.7 L342.3,152.2 L342.4,155.4 L342.5,158.1 L342.5,160.2 L342.5,161.4"/>
<path d="M327.8,0.9 L328.8,8.5 L329.9,16.1 L330.9,23.5 L331.9,30.9 L332.8,38.2 L333.6,45.4 L334.5,52.5 L335.3,59.5 L336.0,66.3 L336.7,73.1 L337.3,79.7 L337.9,86.1 L338.5,92.4 L339.0,98.6 L339.5,104.6 L340.0,110.3 L340.4,116.0 L340.8,121.4 L341.1,126.6 L341.4,131.5 L341.6,136.2 L341.9,140.7 L342.0,144.9 L342.2,148.8 L342.3,152.3 L342.4,155.4 L342.5,158.1 L342.5,160.2 L342.5,161.4"/>
<path d="M329.2,0.9 L330.2,8.6 L331.2,16.2 L332.1,23.7 L332.9,31.1 L333.7,38.4 L334.5,45.6 L335.3,52.7 L336.0,59.7 L336.6,66.5 L337.3,73.3 L337.9,79.9 L338.4,86.3 L338.9,92.6 L339.4,98.8 L339.8,104.7 L340.2,110.5 L340.6,116.1 L340.9,121.5 L341.2,126.7 L341.5,131.6 L341.7,136.3 L341.9,140.8 L342.1,145.0 L342.2,148.8 L342.3,152.3 L342.4,155.4 L342.5,158.1 L342.5,160.2 L342.5,161.4"/>
<path d="M330.4,0.9 L331.3,8.6 L332.2,16.2 L333.0,23.8 L333.8,31.2 L334.5,38.5 L335.3,45.7 L335.9,52.9 L336.6,59.9 L337.2,66.7 L337.7,73.5 L338.3,80.0 L338.8,86.5 L339.2,92.8 L339.7,98.9 L340.1,104.9 L340.4,110.6 L340.8,116.2 L341.1,121.6 L341.3,126.8 L341.6,131.7 L341.8,136.4 L342.0,140.9 L342.1,145.0 L342.2,148.8 L342.3,152.3 L342.4,155.5 L342.5,158.1 L342.5,160.2 L342.5,161.4"/>
<path d="M331.4,0.9 L332.3,8.7 L333.1,16.3 L333.8,23.8 L334.5,31.3 L335.2,38.6 L335.9,45.9 L336.5,53.0 L337.1,60.0 L337.6,66.9 L338.1,73.6 L338.6,80.2 L339.1,86.6 L339.5,92.9 L339.9,99.0 L340.3,105.0 L340.6,110.8 L340.9,116.3 L341.2,121.7 L341.4,126.9 L341.7,131.8 L341.8,136.5 L342.0,140.9 L342.2,145.0 L342.3,148.9 L342.4,152.4 L342.4,155.5 L342.5,158.1 L342.5,160.2 L342.5,161.4"/>
<path d="M332.3,0.9 L333.1,8.7 L333.8,16.3 L334.5,23.9 L335.1,31.4 L335.8,38.7 L336.4,46.0 L336.9,53.1 L337.5,60.1 L338.0,67.0 L338.5,73.7 L338.9,80.3 L339.4,86.8 L339.7,93.0 L340.1,99.2 L340.4,105.1 L340.8,110.9 L341.0,116.4 L341.3,121.8 L341.5,126.9 L341.7,131.9 L341.9,136.5 L342.1,140.9 L342.2,145.1 L342.3,148.9 L342.4,152.4 L342.4,155.5 L342.5,158.1 L342.5,160.2 L342.5,161.4"/>
<path d="M333.0,0.9 L333.7,8.7 L334.4,16.4 L335.1,24.0 L335.7,31.4 L336.3,38.8 L336.8,46.1 L337.3,53.2 L337.8,60.2 L338.3,67.1 L338.8,73.8 L339.2,80.4 L339.6,86.8 L339.9,93.1 L340.3,99.2 L340.6,105.2 L340.9,110.9 L341.1,116.5 L341.4,121.9 L341.6,127.0 L341.8,131.9 L341.9,136.6 L342.1,141.0 L342.2,145.1 L342.3,148.9 L342.4,152.4 L342.4,155.5 L342.5,158.1 L342.5,160.2 L342.5,161.4"/>
<path d="M333.7,0.9 L334.3,8.7 L335.0,16.4 L335.6,24.0 L336.1,31.5 L336.7,38.9 L337.2,46.1 L337.7,53.3 L338.2,60.3 L338.6,67.2 L339.0,73.9 L339.4,80.5 L339.8,86.9 L340.1,93.2 L340.4,99.3 L340.7,105.3 L341.0,111.0 L341.2,116.6 L341.5,121.9 L341.7,127.0 L341.8,131.9 L342.0,136.6 L342.1,141.0 L342.2,145.1 L342.3,148.9 L342.4,152.4 L342.4,155.5 L342.5,158.2 L342.5,160.2 L342.5,161.4"/>
<path d="M334.2,0.9 L334.8,8.7 L335.4,16.4 L336.0,24.1 L336.5,31.6 L337.0,38.9 L337.5,46.2 L338.0,53.4 L338.4,60.4 L338.8,67.2 L339.2,74.0 L339.6,80.6 L339.9,87.0 L340.3,93.3 L340.6,99.4 L340.8,105.3 L341.1,111.1 L341.3,116.6 L341.5,122.0 L341.7,127.1 L341.9,132.0 L342.0,136.6 L342.1,141.0 L342.2,145.2 L342.3,149.0 L342.4,152.4 L342.4,155.5 L342.5,158.2 L342.5,160.2 L342.5,161.4"/>
<path d="M334.7,0.9 L335.3,8.7 L335.8,16.5 L336.4,24.1 L336.9,31.6 L337.4,39.0 L337.8,46.3 L338.3,53.4 L338.7,60.4 L339.1,67.3 L339.4,74.0 L339.8,80.6 L340.1,87.1 L340.4,93.3 L340.7,99.4 L340.9,105.4 L341.2,111.1 L341.4,116.7 L341.6,122.0 L341.8,127.1 L341.9,132.0 L342.0,136.7 L342.2,141.1 L342.3,145.2 L342.3,149.0 L342.4,152.4 L342.4,155.5 L342.5,158.2 L342.5,160.2 L342.5,161.4"/>
<path d="M335.1,0.9 L335.7,8.8 L336.2,16.5 L336.7,24.1 L337.2,31.6 L337.6,39.0 L338.1,46.3 L338.5,53.5 L338.9,60.5 L339.2,67.4 L339.6,74.1 L339.9,80.7 L340.2,87.1 L340.5,93.4 L340.8,99.5 L341.0,105.4 L341.2,111.2 L341.4,116.7 L341.6,122.0 L341.8,127.2 L341.9,132.1 L342.1,136.7 L342.2,141.1 L342.3,145.2 L342.3,149.0 L342.4,152.5 L342.4,155.5 L342.5,158.2 L342.5,160.2 L342.5,161.4"/>
<path d="M335.5,0.9 L336.0,8.8 L336.5,16.5 L337.0,24.2 L337.5,31.7 L337.9,39.1 L338.3,46.4 L338.7,53.5 L339.1,60.5 L339.4,67.4 L339.7,74.2 L340.1,80.7 L340.3,87.2 L340.6,93.4 L340.9,99.5 L341.1,105.5 L341.3,111.2 L341.5,116.7 L341.7,122.1 L341.8,127.2 L342.0,132.1 L342.1,136.7 L342.2,141.1 L342.3,145.2 L342.4,149.0 L342.4,152.5 L342.5,155.5 L342.5,158.2 L342.5,160.2 L342.5,161.4"/>
<path d="M335.9,0.9 L336.4,8.8 L336.8,16.5 L337.3,24.2 L337.7,31.7 L338.1,39.1 L338.5,46.4 L338.9,53.6 L339.2,60.6 L339.6,67.5 L339.9,74.2 L340.2,80.8 L340.5,87.2 L340.7,93.5 L340.9,99.6 L341.2,105.5 L341.4,111.2 L341.5,116.8 L341.7,122.1 L341.9,127.2 L342.0,132.1 L342.1,136.7 L342.2,141.1 L342.3,145.2 L342.4,149.0 L342.4,152.5 L342.5,155.5 L342.5,158.2 L342.5,160.2 L342.5,161.4"/>
<path d="M336.2,0.9 L336.7,8.8 L337.1,16.6 L337.5,24.2 L337.9,31.7 L338.3,39.2 L338.7,46.4 L339.1,53.6 L339.4,60.6 L339.7,67.5 L340.0,74.3 L340.3,80.8 L340.6,87.3 L340.8,93.5 L341.0,99.6 L341.2,105.5 L341.4,111.3 L341.6,116.8 L341.8,122.1 L341.9,127.2 L342.0,132.1 L342.1,136.8 L342.2,141.1 L342.3,145.2 L342.4,149.0 L342.4,152.5 L342.5,155.5 L342.5,158.2 L342.5,160.2 L342.5,161.4"/>
<path d="M336.5,0.9 L336.9,8.8 L337.4,16.6 L337.8,24.2 L338.2,31.8 L338.5,39.2 L338.9,46.5 L339.2,53.6 L339.5,60.7 L339.8,67.6 L340.1,74.3 L340.4,80.9 L340.6,87.3 L340.9,93.6 L341.1,99.7 L341.3,105.6 L341.5,111.3 L341.6,116.8 L341.8,122.2 L341.9,127.3 L342.0,132.1 L342.1,136.8 L342.2,141.2 L342.3,145.2 L342.4,149.0 L342.4,152.5 L342.5,155.6 L342.5,158.2 L342.5,160.2 L342.5,161.4"/>
<path d="M336.7,0.9 L337.2,8.8 L337.6,16.6 L338.0,24.2 L338.3,31.8 L338.7,39.2 L339.0,46.5 L339.4,53.7 L339.7,60.7 L340.0,67.6 L340.2,74.3 L340.5,80.9 L340.7,87.3 L340.9,93.6 L341.1,99.7 L341.3,105.6 L341.5,111.3 L341.7,116.9 L341.8,122.2 L341.9,127.3 L342.1,132.2 L342.2,136.8 L342.2,141.2 L342.3,145.3 L342.4,149.0 L342.4,152.5 L342.5,155.6 L342.5,158.2 L342.5,160.2 L342.5,161.4"/>
<path d="M337.0,0.9 L337.4,8.8 L337.8,16.6 L338.2,24.3 L338.5,31.8 L338.9,39.2 L339.2,46.5 L339.5,53.7 L339.8,60.7 L340.1,67.6 L340.3,74.4 L340.6,80.9 L340.8,87.4 L341.0,93.6 L341.2,99.7 L341.4,105.6 L341.6,111.4 L341.7,116.9 L341.8,122.2 L342.0,127.3 L342.1,132.2 L342.2,136.8 L342.3,141.2 L342.3,145.3 L342.4,149.1 L342.4,152.5 L342.5,155.6 L342.5,158.2 L342.5,160.2 L342.5,161.4"/>
<path d="M337.2,0.9 L337.6,8.8 L338.0,16.6 L338.3,24.3 L338.7,31.8 L339.0,39.3 L339.3,46.6 L339.6,53.7 L339.9,60.8 L340.2,67.6 L340.4,74.4 L340.6,81.0 L340.9,87.4 L341.1,93.7 L341.3,99.8 L341.4,105.7 L341.6,111.4 L341.7,116.9 L341.9,122.2 L342.0,127.3 L342.1,132.2 L342.2,136.8 L342.3,141.2 L342.3,145.3 L342.4,149.1 L342.4,152.5 L342.5,155.6 L342.5,158.2 L342.5,160.2 L342.5,161.4"/>
<path d="M337.4,0.9 L337.8,8.8 L338.1,16.6 L338.5,24.3 L338.8,31.9 L339.1,39.3 L339.4,46.6 L339.7,53.8 L340.0,60.8 L340.3,67.7 L340.5,74.4 L340.7,81.0 L340.9,87.4 L341.1,93.7 L341.3,99.8 L341.5,105.7 L341.6,111.4 L341.8,116.9 L341.9,122.2 L342.0,127.3 L342.1,132.2 L342.2,136.8 L342.3,141.2 L342.3,145.3 L342.4,149.1 L342.4,152.5 L342.5,155.6 L342.5,158.2 L342.5,160.2 L342.5,161.4"/>
<path d="M337.6,0.9 L338.0,8.8 L338.3,16.6 L338.6,24.3 L339.0,31.9 L339.3,39.3 L339.6,46.6 L339.8,53.8 L340.1,60.8 L340.3,67.7 L340.6,74.4 L340.8,81.0 L341.0,87.5 L341.2,93.7 L341.3,99.8 L341.5,105.7 L341.7,111.4 L341.8,116.9 L341.9,122.3 L342.0,127.4 L342.1,132.2 L342.2,136.8 L342.3,141.2 L342.3,145.3 L342.4,149.1 L342.4,152.5 L342.5,155.6 L342.5,158.2 L342.5,160.2 L342.5,161.4"/>
<path d="M337.8,0.9 L338.1,8.8 L338.5,16.6 L338.8,24.3 L339.1,31.9 L339.4,39.3 L339.7,46.6 L339.9,53.8 L340.2,60.8 L340.4,67.7 L340.6,74.5 L340.8,81.0 L341.0,87.5 L341.2,93.7 L341.4,99.8 L341.5,105.7 L341.7,111.4 L341.8,117.0 L341.9,122.3 L342.0,127.4 L342.1,132.2 L342.2,136.9 L342.3,141.2 L342.4,145.3 L342.4,149.1 L342.4,152.5 L342.5,155.6 L342.5,158.2 L342.5,160.2 L342.5,161.4"/>
<path d="M337.9,0.9 L338.3,8.8 L338.6,16.6 L338.9,24.3 L339.2,31.9 L339.5,39.3 L339.8,46.6 L340.0,53.8 L340.3,60.9 L340.5,67.7 L340.7,74.5 L340.9,81.1 L341.1,87.5 L341.3,93.8 L341.4,99.8 L341.6,105.7 L341.7,111.5 L341.8,117.0 L342.0,122.3 L342.1,127.4 L342.2,132.2 L342.2,136.9 L342.3,141.2 L342.4,145.3 L342.4,149.1 L342.4,152.5 L342.5,155.6 L342.5,158.2 L342.5,160.2 L342.5,161.4"/>
<path d="M338.1,0.9 L338.4,8.8 L338.7,16.7 L339.0,24.3 L339.3,31.9 L339.6,39.4 L339.8,46.7 L340.1,53.8 L340.3,60.9 L340.6,67.8 L340.8,74.5 L341.0,81.1 L341.1,87.5 L341.3,93.8 L341.5,99.9 L341.6,105.8 L341.7,111.5 L341.9,117.0 L342.0,122.3 L342.1,127.4 L342.2,132.3 L342.2,136.9 L342.3,141.2 L342.4,145.3 L342.4,149.1 L342.4,152.5 L342.5,155.6 L342.5,158.2 L342.5,160.2 L342.5,161.4"/>
<path d="M338.2,0.9 L338.5,8.9 L338.8,16.7 L339.1,24.4 L339.4,31.9 L339.7,39.4 L339.9,46.7 L340.2,53.9 L340.4,60.9 L340.6,67.8 L340.8,74.5 L341.0,81.1 L341.2,87.5 L341.3,93.8 L341.5,99.9 L341.6,105.8 L341.8,111.5 L341.9,117.0 L342.0,122.3 L342.1,127.4 L342.2,132.3 L342.2,136.9 L342.3,141.2 L342.4,145.3 L342.4,149.1 L342.4,152.5 L342.5,155.6 L342.5,158.2 L342.5,160.2 L342.5,161.4"/>
<path d="M338.4,0.9 L338.7,8.9 L339.0,16.7 L339.2,24.4 L339.5,31.9 L339.8,39.4 L340.0,46.7 L340.2,53.9 L340.5,60.9 L340.7,67.8 L340.9,74.5 L341.1,81.1 L341.2,87.6 L341.4,93.8 L341.5,99.9 L341.7,105.8 L341.8,111.5 L341.9,117.0 L342.0,122.3 L342.1,127.4 L342.2,132.3 L342.3,136.9 L342.3,141.2 L342.4,145.3 L342.4,149.1 L342.4,152.5 L342.5,155.6 L342.5,158.2 L342.5,160.2 L342.5,161.4"/>
<path d="M338.5,0.9 L338.8,8.9 L339.1,16.7 L339.3,24.4 L339.6,32.0 L339.9,39.4 L340.1,46.7 L340.3,53.9 L340.5,60.9 L340.7,67.8 L340.9,74.6 L341.1,81.1 L341.3,87.6 L341.4,93.8 L341.6,99.9 L341.7,105.8 L341.8,111.5 L341.9,117.0 L342.0,122.3 L342.1,127.4 L342.2,132.3 L342.3,136.9 L342.3,141.3 L342.4,145.3 L342.4,149.1 L342.4,152.5 L342.5,155.6 L342.5,158.2 L342.5,160.2 L342.5,161.4"/>
<path d="M338.6,0.9 L338.9,8.9 L339.2,16.7 L339.4,24.4 L339.7,32.0 L339.9,39.4 L340.2,46.7 L340.4,53.9 L340.6,60.9 L340.8,67.8 L341.0,74.6 L341.1,81.2 L341.3,87.6 L341.4,93.8 L341.6,99.9 L341.7,105.8 L341.8,111.5 L341.9,117.0 L342.0,122.3 L342.1,127.4 L342.2,132.3 L342.3,136.9 L342.3,141.3 L342.4,145.3 L342.4,149.1 L342.5,152.5 L342.5,155.6 L342.5,158.2 L342.5,160.2 L342.5,161.4"/>
<path d="M338.7,0.9 L339.0,8.9 L339.3,16.7 L339.5,24.4 L339.8,32.0 L340.0,39.4 L340.2,46.7 L340.4,53.9 L340.6,61.0 L340.8,67.9 L341.0,74.6 L341.2,81.2 L341.3,87.6 L341.5,93.9 L341.6,99.9 L341.7,105.8 L341.9,111.5 L342.0,117.1 L342.1,122.4 L342.1,127.4 L342.2,132.3 L342.3,136.9 L342.3,141.3 L342.4,145.3 L342.4,149.1 L342.5,152.5 L342.5,155.6 L342.5,158.2 L342.5,160.2 L342.5,161.4"/>
<path d="M338.8,0.9 L339.1,8.9 L339.4,16.7 L339.6,24.4 L339.8,32.0 L340.1,39.4 L340.3,46.8 L340.5,53.9 L340.7,61.0 L340.9,67.9 L341.0,74.6 L341.2,81.2 L341.4,87.6 L341.5,93.9 L341.6,99.9 L341.8,105.8 L341.9,111.6 L342.0,117.1 L342.1,122.4 L342.1,127.4 L342.2,132.3 L342.3,136.9 L342.3,141.3 L342.4,145.3 L342.4,149.1 L342.5,152.5 L342.5,155.6 L342.5,158.2 L342.5,160.2 L342.5,161.4"/>
<path d="M338.9,0.9 L339.2,8.9 L339.4,16.7 L339.7,24.4 L339.9,32.0 L340.1,39.4 L340.4,46.8 L340.6,53.9 L340.7,61.0 L340.9,67.9 L341.1,74.6 L341.2,81.2 L341.4,87.6 L341.5,93.9 L341.7,100.0 L341.8,105.9 L341.9,111.6 L342.0,117.1 L342.1,122.4 L342.2,127.5 L342.2,132.3 L342.3,136.9 L342.3,141.3 L342.4,145.3 L342.4,149.1 L342.5,152.5 L342.5,155.6 L342.5,158.2 L342.5,160.2 L342.5,161.4"/>
<path d="M339.0,0.9 L339.3,8.9 L339.5,16.7 L339.8,24.4 L340.0,32.0 L340.2,39.5 L340.4,46.8 L340.6,54.0 L340.8,61.0 L341.0,67.9 L341.1,74.6 L341.3,81.2 L341.4,87.6 L341.6,93.9 L341.7,100.0 L341.8,105.9 L341.9,111.6 L342.0,117.1 L342.1,122.4 L342.2,127.5 L342.2,132.3 L342.3,136.9 L342.3,141.3 L342.4,145.3 L342.4,149.1 L342.5,152.5 L342.5,155.6 L342.5,158.2 L342.5,160.2 L342.5,161.4"/>
<path d="M339.1,0.9 L339.4,8.9 L339.6,16.7 L339.8,24.4 L340.1,32.0 L340.3,39.5 L340.5,46.8 L340.7,54.0 L340.8,61.0 L341.0,67.9 L341.2,74.6 L341.3,81.2 L341.5,87.6 L341.6,93.9 L341.7,100.0 L341.8,105.9 L341.9,111.6 L342.0,117.1 L342.1,122.4 L342.2,127.5 L342.2,132.3 L342.3,136.9 L342.4,141.3 L342.4,145.4 L342.4,149.1 L342.5,152.5 L342.5,155.6 L342.5,158.2 L342.5,160.2 L342.5,161.4"/>
<path d="M339.2,0.9 L339.4,8.9 L339.7,16.7 L339.9,24.4 L340.1,32.0 L340.3,39.5 L340.5,46.8 L340.7,54.0 L340.9,61.0 L341.0,67.9 L341.2,74.7 L341.3,81.2 L341.5,87.7 L341.6,93.9 L341.7,100.0 L341.8,105.9 L341.9,111.6 L342.0,117.1 L342.1,122.4 L342.2,127.5 L342.2,132.3 L342.3,136.9 L342.4,141.3 L342.4,145.4 L342.4,149.1 L342.5,152.5 L342.5,155.6 L342.5,158.2 L342.5,160.2 L342.5,161.4"/>
<path d="M339.3,0.9 L339.5,8.9 L339.7,16.7 L340.0,24.4 L340.2,32.0 L340.4,39.5 L340.6,46.8 L340.7,54.0 L340.9,61.0 L341.1,67.9 L341.2,74.7 L341.4,81.2 L341.5,87.7 L341.6,93.9 L341.7,100.0 L341.8,105.9 L341.9,111.6 L342.0,117.1 L342.1,122.4 L342.2,127.5 L342.3,132.3 L342.3,136.9 L342.4,141.3 L342.4,145.4 L342.4,149.1 L342.5,152.5 L342.5,155.6 L342.5,158.2 L342.5,160.2 L342.5,161.4"/>
<path d="M339.3,0.9 L339.6,8.9 L339.8,16.7 L340.0,24.4 L340.2,32.0 L340.4,39.5 L340.6,46.8 L340.8,54.0 L340.9,61.0 L341.1,67.9 L341.3,74.7 L341.4,81.3 L341.5,87.7 L341.6,93.9 L341.8,100.0 L341.9,105.9 L342.0,111.6 L342.0,117.1 L342.1,122.4 L342.2,127.5 L342.3,132.3 L342.3,136.9 L342.4,141.3 L342.4,145.4 L342.4,149.1 L342.5,152.5 L342.5,155.6 L342.5,158.2 L342.5,160.2 L342.5,161.4"/>
<path d="M339.4,0.9 L339.6,8.9 L339.9,16.7 L340.1,24.4 L340.3,32.0 L340.5,39.5 L340.7,46.8 L340.8,54.0 L341.0,61.0 L341.1,67.9 L341.3,74.7 L341.4,81.3 L341.5,87.7 L341.7,93.9 L341.8,100.0 L341.9,105.9 L342.0,111.6 L342.1,117.1 L342.1,122.4 L342.2,127.5 L342.3,132.3 L342.3,137.0 L342.4,141.3 L342.4,145.4 L342.4,149.1 L342.5,152.6 L342.5,155.6 L342.5,158.2 L342.5,160.2 L342.5,161.4"/>
<path d="M339.5,0.9 L339.7,8.9 L339.9,16.7 L340.1,24.5 L340.3,32.0 L340.5,39.5 L340.7,46.8 L340.9,54.0 L341.0,61.1 L341.2,68.0 L341.3,74.7 L341.4,81.3 L341.6,87.7 L341.7,93.9 L341.8,100.0 L341.9,105.9 L342.0,111.6 L342.1,117.1 L342.1,122.4 L342.2,127.5 L342.3,132.4 L342.3,137.0 L342.4,141.3 L342.4,145.4 L342.4,149.1 L342.5,152.6 L342.5,155.6 L342.5,158.2 L342.5,160.2 L342.5,161.4"/>
<path d="M339.6,0.9 L339.8,8.9 L340.0,16.7 L340.2,24.5 L340.4,32.1 L340.6,39.5 L340.7,46.8 L340.9,54.0 L341.1,61.1 L341.2,68.0 L341.3,74.7 L341.5,81.3 L341.6,87.7 L341.7,94.0 L341.8,100.0 L341.9,105.9 L342.0,111.6 L342.1,117.1 L342.2,122.4 L342.2,127.5 L342.3,132.4 L342.3,137.0 L342.4,141.3 L342.4,145.4 L342.4,149.1 L342.5,152.6 L342.5,155.6 L342.5,158.2 L342.5,160.2 L342.5,161.4"/>
<path d="M339.6,0.9 L339.8,8.9 L340.0,16.7 L340.2,24.5 L340.4,32.1 L340.6,39.5 L340.8,46.8 L340.9,54.0 L341.1,61.1 L341.2,68.0 L341.4,74.7 L341.5,81.3 L341.6,87.7 L341.7,94.0 L341.8,100.0 L341.9,105.9 L342.0,111.6 L342.1,117.1 L342.2,122.4 L342.2,127.5 L342.3,132.4 L342.3,137.0 L342.4,141.3 L342.4,145.4 L342.4,149.1 L342.5,152.6 L342.5,155.6 L342.5,158.2 L342.5,160.2 L342.5,161.4"/>
<path d="M339.7,0.9 L339.9,8.9 L340.1,16.7 L340.3,24.5 L340.5,32.1 L340.6,39.5 L340.8,46.9 L341.0,54.0 L341.1,61.1 L341.3,68.0 L341.4,74.7 L341.5,81.3 L341.6,87.7 L341.7,94.0 L341.8,100.0 L341.9,105.9 L342.0,111.6 L342.1,117.1 L342.2,122.4 L342.2,127.5 L342.3,132.4 L342.3,137.0 L342.4,141.3 L342.4,145.4 L342.4,149.1 L342.5,152.6 L342.5,155.6 L342.5,158.2 L342.5,160.2 L342.5,161.4"/>
<path d="M339.7,0.9 L339.9,8.9 L340.1,16.7 L340.3,24.5 L340.5,32.1 L340.7,39.5 L340.8,46.9 L341.0,54.0 L341.1,61.1 L341.3,68.0 L341.4,74.7 L341.5,81.3 L341.6,87.7 L341.8,94.0 L341.9,100.1 L341.9,105.9 L342.0,111.6 L342.1,117.1 L342.2,122.4 L342.2,127.5 L342.3,132.4 L342.3,137.0 L342.4,141.3 L342.4,145.4 L342.4,149.1 L342.5,152.6 L342.5,155.6 L342.5,158.2 L342.5,160.2 L342.5,161.4"/>
<path d="M339.8,0.9 L340.0,8.9 L340.2,16.7 L340.4,24.5 L340.6,32.1 L340.7,39.5 L340.9,46.9 L341.0,54.1 L341.2,61.1 L341.3,68.0 L341.4,74.7 L341.6,81.3 L341.7,87.7 L341.8,94.0 L341.9,100.1 L342.0,106.0 L342.0,111.7 L342.1,117.2 L342.2,122.4 L342.2,127.5 L342.3,132.4 L342.3,137.0 L342.4,141.3 L342.4,145.4 L342.4,149.1 L342.5,152.6 L342.5,155.6 L342.5,158.2 L342.5,160.2 L342.5,161.4"/>
<path d="M339.9,0.9 L340.0,8.9 L340.2,16.8 L340.4,24.5 L340.6,32.1 L340.8,39.5 L340.9,46.9 L341.1,54.1 L341.2,61.1 L341.3,68.0 L341.5,74.7 L341.6,81.3 L341.7,87.7 L341.8,94.0 L341.9,100.1 L342.0,106.0 L342.0,111.7 L342.1,117.2 L342.2,122.5 L342.2,127.5 L342.3,132.4 L342.3,137.0 L342.4,141.3 L342.4,145.4 L342.4,149.1 L342.5,152.6 L342.5,155.6 L342.5,158.2 L342.5,160.2 L342.5,161.4"/>
<path d="M339.9,0.9 L340.1,8.9 L340.3,16.8 L340.5,24.5 L340.6,32.1 L340.8,39.5 L340.9,46.9 L341.1,54.1 L341.2,61.1 L341.4,68.0 L341.5,74.7 L341.6,81.3 L341.7,87.8 L341.8,94.0 L341.9,100.1 L342.0,106.0 L342.1,111.7 L342.1,117.2 L342.2,122.5 L342.3,127.5 L342.3,132.4 L342.3,137.0 L342.4,141.3 L342.4,145.4 L342.4,149.1 L342.5,152.6 L342.5,155.6 L342.5,158.2 L342.5,160.2 L342.5,161.4"/>
<path d="M340.0,0.9 L340.1,8.9 L340.3,16.8 L340.5,24.5 L340.7,32.1 L340.8,39.6 L341.0,46.9 L341.1,54.1 L341.2,61.1 L341.4,68.0 L341.5,74.8 L341.6,81.3 L341.7,87.8 L341.8,94.0 L341.9,100.1 L342.0,106.0 L342.1,111.7 L342.1,117.2 L342.2,122.5 L342.3,127.5 L342.3,132.4 L342.4,137.0 L342.4,141.3 L342.4,145.4 L342.4,149.1 L342.5,152.6 L342.5,155.6 L342.5,158.2 L342.5,160.2 L342.5,161.4"/>
<path d="M340.0,0.9 L340.2,8.9 L340.4,16.8 L340.5,24.5 L340.7,32.1 L340.9,39.6 L341.0,46.9 L341.1,54.1 L341.3,61.1 L341.4,68.0 L341.5,74.8 L341.6,81.3 L341.7,87.8 L341.8,94.0 L341.9,100.1 L342.0,106.0 L342.1,111.7 L342.1,117.2 L342.2,122.5 L342.3,127.5 L342.3,132.4 L342.4,137.0 L342.4,141.3 L342.4,145.4 L342.4,149.1 L342.5,152.6 L342.5,155.6 L342.5,158.2 L342.5,160.2 L342.5,161.4"/>
<path d="M340.0,0.9 L340.2,8.9 L340.4,16.8 L340.6,24.5 L340.7,32.1 L340.9,39.6 L341.0,46.9 L341.2,54.1 L341.3,61.1 L341.4,68.0 L341.5,74.8 L341.6,81.4 L341.7,87.8 L341.8,94.0 L341.9,100.1 L342.0,106.0 L342.1,111.7 L342.1,117.2 L342.2,122.5 L342.3,127.5 L342.3,132.4 L342.4,137.0 L342.4,141.3 L342.4,145.4 L342.4,149.1 L342.5,152.6 L342.5,155.6 L342.5,158.2 L342.5,160.2 L342.5,161.4"/>
<path d="M340.1,0.9 L340.3,8.9 L340.4,16.8 L340.6,24.5 L340.8,32.1 L340.9,39.6 L341.1,46.9 L341.2,54.1 L341.3,61.1 L341.4,68.0 L341.6,74.8 L341.7,81.4 L341.8,87.8 L341.8,94.0 L341.9,100.1 L342.0,106.0 L342.1,111.7 L342.2,117.2 L342.2,122.5 L342.3,127.5 L342.3,132.4 L342.4,137.0 L342.4,141.3 L342.4,145.4 L342.4,149.1 L342.5,152.6 L342.5,155.6 L342.5,158.2 L342.5,160.2 L342.5,161.4"/>
</g>
<g fill="none" stroke="#8a8a8a" stroke-width="0.9">
<rect x="208.6" y="1.0" width="133.90" height="160.40"/>
<path d="M208.60,161.4 v-1.8 M208.60,1.0 v1.8 M215.29,161.4 v-1.1 M215.29,1.0 v1.1 M221.99,161.4 v-1.1 M221.99,1.0 v1.1 M228.69,161.4 v-1.1 M228.69,1.0 v1.1 M235.38,161.4 v-1.8 M235.38,1.0 v1.8 M242.07,161.4 v-1.1 M242.07,1.0 v1.1 M248.77,161.4 v-1.1 M248.77,1.0 v1.1 M255.47,161.4 v-1.1 M255.47,1.0 v1.1 M262.16,161.4 v-1.8 M262.16,1.0 v1.8 M268.86,161.4 v-1.1 M268.86,1.0 v1.1 M275.55,161.4 v-1.1 M275.55,1.0 v1.1 M282.25,161.4 v-1.1 M282.25,1.0 v1.1 M288.94,161.4 v-1.8 M288.94,1.0 v1.8 M295.63,161.4 v-1.1 M295.63,1.0 v1.1 M302.33,161.4 v-1.1 M302.33,1.0 v1.1 M309.02,161.4 v-1.1 M309.02,1.0 v1.1 M315.72,161.4 v-1.8 M315.72,1.0 v1.8 M322.42,161.4 v-1.1 M322.42,1.0 v1.1 M329.11,161.4 v-1.1 M329.11,1.0 v1.1 M335.81,161.4 v-1.1 M335.81,1.0 v1.1 M342.50,161.4 v-1.8 M342.50,1.0 v1.8 M208.6,161.40 h1.8 M342.5,161.40 h-1.8 M208.6,152.23 h1.1 M342.5,152.23 h-1.1 M208.6,143.06 h1.1 M342.5,143.06 h-1.1 M208.6,133.89 h1.1 M342.5,133.89 h-1.1 M208.6,124.72 h1.1 M342.5,124.72 h-1.1 M208.6,115.55 h1.8 M342.5,115.55 h-1.8 M208.6,106.38 h1.1 M342.5,106.38 h-1.1 M208.6,97.21 h1.1 M342.5,97.21 h-1.1 M208.6,88.04 h1.1 M342.5,88.04 h-1.1 M208.6,78.87 h1.1 M342.5,78.87 h-1.1 M208.6,69.70 h1.8 M342.5,69.70 h-1.8 M208.6,60.53 h1.1 M342.5,60.53 h-1.1 M208.6,51.36 h1.1 M342.5,51.36 h-1.1 M208.6,42.19 h1.1 M342.5,42.19 h-1.1 M208.6,33.02 h1.1 M342.5,33.02 h-1.1 M208.6,23.85 h1.8 M342.5,23.85 h-1.8 M208.6,14.68 h1.1 M342.5,14.68 h-1.1 M208.6,5.51 h1.1 M342.5,5.51 h-1.1" stroke-width="0.7"/>
</g>
<g fill="#111" stroke="#111" stroke-width="0.22">
<text x="175.1" y="14.8" font-size="15">(b)</text>
<text x="206.5" y="162.70" font-size="9.8" text-anchor="end">0.0</text>
<text x="206.5" y="118.05" font-size="9.8" text-anchor="end">0.5</text>
<text x="206.5" y="72.20" font-size="9.8" text-anchor="end">1.0</text>
<text x="206.5" y="26.35" font-size="9.8" text-anchor="end">1.5</text>
<text x="208.40" y="172.1" font-size="9.8" text-anchor="middle">0.0</text>
<text x="235.18" y="172.1" font-size="9.8" text-anchor="middle">0.2</text>
<text x="261.96" y="172.1" font-size="9.8" text-anchor="middle">0.4</text>
<text x="288.74" y="172.1" font-size="9.8" text-anchor="middle">0.6</text>
<text x="315.52" y="172.1" font-size="9.8" text-anchor="middle">0.8</text>
<text x="342.30" y="172.1" font-size="9.8" text-anchor="middle">1.0</text>
<text x="259.5" y="188.3" font-size="14.5"><tspan font-style="italic">E</tspan>/<tspan font-style="italic">E</tspan><tspan font-size="11.5" dy="2.6">cr</tspan></text>
<g font-size="15"><text transform="translate(191.2,109.6) rotate(-90)" font-size="16" font-style="italic">M</text><text transform="translate(191.2,88.9) rotate(-90)">-</text><text transform="translate(191.2,78.8) rotate(-90)">2κ</text><text transform="translate(191.2,59.2) rotate(-90)" font-size="14.5">(<tspan font-style="italic">e</tspan><tspan font-size="8" dy="-5.5">4/3</tspan><tspan dy="5.5">)</tspan></text></g>
<text x="263.2" y="20.3" font-size="14"><tspan font-style="italic">l</tspan>=2</text>
<text x="240.3" y="54" font-size="14"><tspan font-style="italic">l</tspan>=1</text>
<text x="231.7" y="116.6" font-size="14"><tspan font-style="italic">l</tspan>=0</text>
</g>
<g fill="#111" stroke="#111" stroke-width="0.22">
<text x="13.5" y="204.4" font-size="15">(c)</text>
<text x="42.4" y="208.7" font-size="14.5"><tspan font-style="italic">E</tspan>/<tspan font-style="italic">E</tspan><tspan font-size="11.5" dy="2.4">cr</tspan><tspan dy="-2.4" dx="1.6" font-size="15">=0</tspan></text>
<text x="133.2" y="208.9" font-size="14.5"><tspan font-style="italic">E</tspan>/<tspan font-style="italic">E</tspan><tspan font-size="11.5" dy="2.4">cr</tspan><tspan dy="-2.4" dx="1.6" font-size="15">=1/2</tspan></text>
<text x="230.6" y="208.6" font-size="14.5"><tspan font-style="italic">E</tspan>/<tspan font-style="italic">E</tspan><tspan font-size="11.5" dy="2.4">cr</tspan><tspan dy="-2.4" dx="1.6" font-size="15">=1</tspan></text>
<text x="13.4" y="229.7" font-size="11"><tspan font-style="italic">l</tspan>=1</text>
<text x="24.6" y="238.4" font-size="11"><tspan font-style="italic">l</tspan>=0</text>
<text x="234.4" y="227.9" font-size="10.5">contiuum</text>
</g>
<rect x="233.7" y="232" width="38.4" height="10.6" fill="#b9b9b9"/>
<g fill="none" stroke="#6a6a6a" stroke-width="0.85">
<path d="M34.5,225.4 H88.5 M45.9,232.2 H78.5"/>
<path d="M122,229.4 H180.2 M141,235.4 H174.1"/>
</g>
<g fill="none" stroke="#111" stroke-width="1.8" stroke-linejoin="miter">
<path d="M24.3,218.5 L61.5,243.5 L98.6,218.9"/>
<path d="M119.6,228.6 L166,243.4 L202,208"/>
<path d="M233.7,243.3 L272,243.3 L299.2,206.8"/>
</g>
<g fill="#111" stroke="#111" stroke-width="0.22">
<text x="9.3" y="267.8" font-size="15">(d)</text>
<text x="25.3" y="284.2" font-size="14.8"><tspan font-style="italic">E</tspan>=<tspan font-style="italic">e</tspan>/2</text>
<text x="79.6" y="284.2" font-size="14.8">-<tspan font-style="italic">e</tspan>/2</text>
<text x="130.3" y="284.2" font-size="14.8"><tspan font-style="italic">e</tspan>/2</text>
<text x="175.6" y="284.2" font-size="14.8">-<tspan font-style="italic">e</tspan>/2</text>
</g>
<path d="M42.4,264.3 H222.3" stroke="#111" stroke-width="1.1"/>
<circle cx="70.1" cy="264.3" r="5.2" fill="#fff" stroke="#111" stroke-width="1.1"/>
<path d="M67.35,264.3 h5.5" stroke="#111" stroke-width="1.4"/>
<circle cx="116.3" cy="264.3" r="5.2" fill="#fff" stroke="#111" stroke-width="1.1"/>
<path d="M113.10,264.3 h6.4 M116.30,261.1 v6.4" stroke="#111" stroke-width="1.05"/>
<circle cx="162.4" cy="264.3" r="5.2" fill="#fff" stroke="#111" stroke-width="1.1"/>
<path d="M159.65,264.3 h5.5" stroke="#111" stroke-width="1.4"/>
<circle cx="208.2" cy="264.3" r="5.2" fill="#fff" stroke="#111" stroke-width="1.1"/>
<path d="M205.00,264.3 h6.4 M208.20,261.1 v6.4" stroke="#111" stroke-width="1.05"/>
</svg>
</body></html>
